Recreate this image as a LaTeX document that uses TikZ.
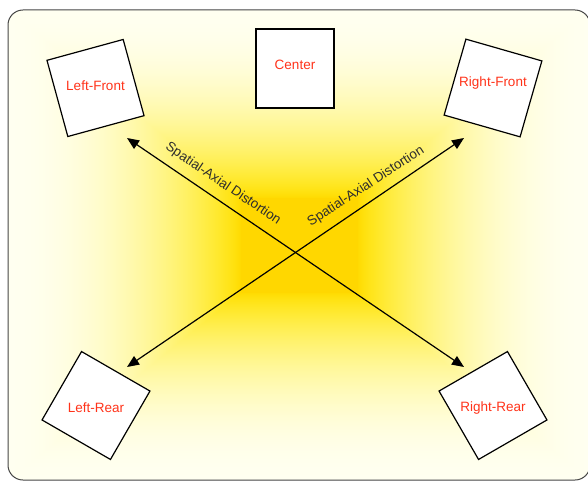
\documentclass[tikz,border=0pt]{standalone}
\usepackage{fontspec}
\setmainfont{Liberation Sans}
\usetikzlibrary{arrows.meta}
\definecolor{labred}{RGB}{255,51,26}
\definecolor{bordergray}{RGB}{70,70,70}
\definecolor{distgray}{RGB}{45,45,45}
\pgfdeclarefunctionalshading{rectglow}{\pgfpoint{-50bp}{-50bp}}{\pgfpoint{50bp}{50bp}}{}{
abs 25 div exch abs 25 div
2 copy lt {exch} if pop
0.2 sub 0.8 div
dup 0 lt {pop 0} if
dup 1 gt {pop 1} if
1 exch sub dup mul 1 exch sub
dup sqrt 0.157 mul 0.843 add exch 0.94 mul
1 3 1 roll
}
\tikzset{
  spk/.style={draw=black, line width=1.2pt, fill=white, minimum size=79pt, inner sep=0pt},
  spklabel/.style={text=labred, font=\fontsize{13.5}{15}\selectfont, inner sep=0pt},
  distlabel/.style={text=distgray, font=\fontsize{13.5}{15}\selectfont, inner sep=0pt},
  axis/.style={line width=1.2pt, {Triangle[length=12pt,width=10pt]}-{Triangle[length=12pt,width=10pt]}}
}
\begin{document}
\begin{tikzpicture}[x=1pt,y=-1pt]
\useasboundingbox (0,0) rectangle (588,481);
\path[shading=rectglow, rounded corners=15pt] (8,10) rectangle (590,480);
\draw[bordergray, line width=1pt, rounded corners=15pt] (8,10) rectangle (590,480);

\node[spk, rotate=15.3] (lf) at (95.5,88) {};
\node[spk, minimum width=78pt] (c) at (295,68.5) {};
\node[spk, rotate=-16] (rf) at (493,88) {};
\node[spk, rotate=-30] (lr) at (96,405.5) {};
\node[spk, rotate=30] (rr) at (493,405.5) {};

\node[spklabel] (lft) at (lf.center) [yshift=2pt] {Left-Front};
\node[spklabel] (ct) at (c.center) [yshift=3.5pt] {Center};
\node[spklabel] (rft) at (rf.center) [yshift=5pt] {Right-Front};
\node[spklabel] (lrt) at (lr.center) [yshift=-2.5pt] {Left-Rear};
\node[spklabel] (rrt) at (rr.center) [yshift=-2.5pt] {Right-Rear};

\coordinate (p1) at (127,138);
\coordinate (p2) at (464,367);
\coordinate (q1) at (127,367);
\coordinate (q2) at (464,138);
\draw[axis] (p1) -- (p2);
\draw[axis] (q1) -- (q2);

\node[distlabel, rotate=-34] (d1) at (223,184) {Spatial-Axial Distortion};
\node[distlabel, rotate=33] (d2) at (366,186.5) {Spatial-Axial Distortion};
\end{tikzpicture}
\end{document}
